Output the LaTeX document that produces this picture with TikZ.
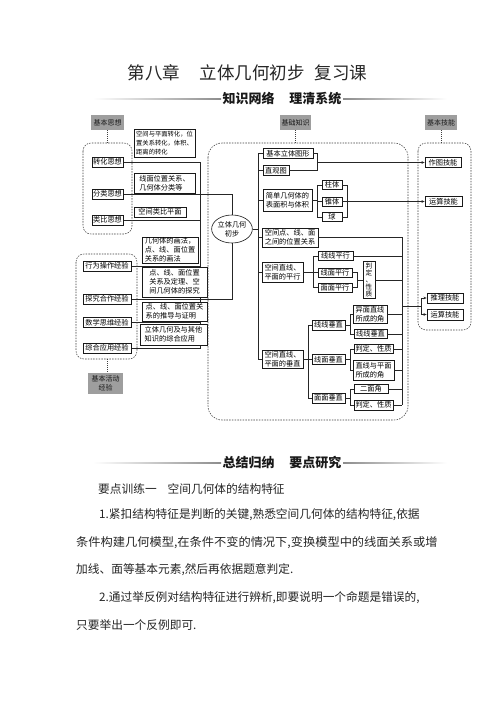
\documentclass[tikz,border=0pt]{standalone}
\usepackage{fontspec}
\setmainfont{Noto Sans CJK SC}
\usepackage{graphicx}
\usetikzlibrary{shapes.geometric,shadows,arrows.meta}
\pgfdeclarelayer{bg}
\pgfsetlayers{bg,main}
\newcommand\nf{\fontsize{7.2pt}{9.2pt}\selectfont}
\newcommand\nfs{\fontsize{6.3pt}{9pt}\selectfont}
\newcommand\gf{\fontsize{7pt}{9pt}\selectfont}
\newcommand\bodyf{\fontsize{11.7pt}{14pt}\selectfont}
\begin{document}
\begin{tikzpicture}[x=1pt,y=-1pt,
  bx/.style={draw=black!90,line width=0.6pt,fill=white,inner sep=0pt,font=\nf,align=left,
    drop shadow={shadow xshift=0.6pt,shadow yshift=-0.6pt,fill=black!50,opacity=1}},
  gbx/.style={fill=black!38,inner sep=0pt,font=\gf,align=center,text=black!90},
  ln/.style={draw=black!85,line width=0.6pt},
  fr/.style={draw=black!75,line width=0.55pt,dash pattern=on 1.5pt off 1.2pt,rounded corners=8pt},
  dl/.style={draw=black!75,line width=0.55pt,dash pattern=on 1pt off 1pt},
  arr/.style={ln,-{Stealth[length=3.2pt,width=2.6pt]}},
  body/.style={font=\bodyf,inner sep=0pt,anchor=west,text=black!85},
  hd/.style={font=\bfseries\fontsize{13pt}{15pt}\selectfont,inner sep=0pt,text=black!90}
]
\useasboundingbox (0,0) rectangle (496,702);
\begin{pgfonlayer}{bg}
\fill[white] (0,0) rectangle (496,702);
\end{pgfonlayer}

% title and headers
\node[font=\fontsize{17.5pt}{20pt}\selectfont,text=black!85,inner sep=0pt] (title) at (247.5,73) {第八章\hspace{20pt}立体几何初步\hspace{10pt}复习课};
\node[hd] (h1) at (282,99) {知识网络\hspace{15pt}理清系统};
\shade[left color=white,right color=black!45] (93,98.5) rectangle (221,99.7);
\shade[left color=black!45,right color=white] (343,98.5) rectangle (447,99.7);

% ellipse
\node[draw=black!90,line width=0.6pt,ellipse,minimum width=40pt,minimum height=28pt,inner sep=0pt,font=\nf,align=center] (el) at (232,229) {立体几何\\初步};

% ---------- left: basic ideas ----------
\node[gbx,minimum width=33pt,minimum height=15pt] (sx) at (107.5,122.5) {基本思想};
\draw[fr] (83,143) rectangle (132,234);
\coordinate (sxf) at (107.5,143);
\draw[dl] (sx.south) -- (sxf);
\node[bx,minimum width=31pt,minimum height=10pt,align=center] (zh) at (107.5,162) {转化思想};
\node[bx,minimum width=31pt,minimum height=10pt,align=center] (fl) at (107.5,194) {分类思想};
\node[bx,minimum width=31pt,minimum height=10pt,align=center] (lb) at (107.5,220) {类比思想};
\node[bx,minimum width=61pt,minimum height=28pt,font=\nfs] (d1) at (164.5,143.5) {空间与平面转化，位\\置关系转化，体积、\\距离的转化};
\node[bx,minimum width=61pt,minimum height=20pt] (d2) at (164.5,183) {线面位置关系、\\几何体分类等};
\node[bx,minimum width=52pt,minimum height=10pt] (d3) at (160,212) {空间类比平面};

% ---------- left: activity experience ----------
\draw[fr] (76,254) rectangle (137,359);
\node[bx,minimum width=48pt,minimum height=10pt,align=center] (xw) at (107,266) {行为操作经验};
\node[bx,minimum width=48pt,minimum height=10pt,align=center] (tj) at (107,299) {探究合作经验};
\node[bx,minimum width=48pt,minimum height=10pt,align=center] (sw) at (107,322.5) {数学思维经验};
\node[bx,minimum width=48pt,minimum height=10pt,align=center] (zy) at (107,348) {综合应用经验};
\coordinate (hdf) at (107,359);
\coordinate (jht) at (107,373);
\node[gbx,minimum width=35pt,minimum height=21pt] (jh) at (105.5,383.5) {基本活动\\经验};
\draw[dl] (hdf) -- (jht);
\node[bx,minimum width=56pt,minimum height=26pt] (e1) at (170,250) {几何体的画法，\\点、线、面位置\\关系的画法};
\node[bx,minimum width=65pt,minimum height=30pt] (e2) at (174.5,282) {点、线、面位置\\关系及定理、空\\间几何体的探究};
\node[bx,minimum width=65pt,minimum height=19pt] (e3) at (174.5,311.5) {点、线、面位置关\\系的推导与证明};
\node[bx,minimum width=67pt,minimum height=21pt] (e4) at (173.5,334.5) {立体几何及与其他\\知识的综合应用};

% left bus (behind the boxes)
\coordinate (bl) at (200.5,0);
\begin{pgfonlayer}{bg}
\draw[ln] (zh.east) -- (zh.east -| bl);
\draw[ln] (lb.east) -- (lb.east -| bl);
\draw[ln] (xw.east) -- (xw.east -| bl);
\draw[ln] (sw.east) -- (sw.east -| bl);
\draw[ln] (zy.east) -- (zy.east -| bl);
\draw[ln] (zh.east -| bl) -- (zy.east -| bl);
\draw[ln] (fl.east) -- (fl.east -| el.north) -- (el.north);
\draw[ln] (tj.east) -- (tj.east -| el.south) -- (el.south);
\end{pgfonlayer}

% ---------- middle: basic knowledge ----------
\node[gbx,minimum width=31pt,minimum height=15pt] (jc) at (295.5,122.5) {基础知识};
\draw[fr,rounded corners=14pt] (208,143) rectangle (408,420);
\coordinate (jcf) at (295.5,143);
\draw[dl] (jc.south) -- (jcf);

\node[bx,minimum width=50pt,minimum height=9.5pt] (k1) at (288,153.5) {基本立体图形};
\node[bx,minimum width=26pt,minimum height=9.5pt] (k2) at (276,170.5) {直观图};
\node[bx,minimum width=49pt,minimum height=22pt] (k3) at (287.5,200.5) {简单几何体的\\表面积与体积};
\node[bx,minimum width=20pt,minimum height=9pt,align=center] (z1) at (332,185) {柱体};
\node[bx,minimum width=20pt,minimum height=9pt,align=center] (z2) at (332,201.5) {锥体};
\node[bx,minimum width=20pt,minimum height=9pt,align=center] (q) at (332,217) {球};
\node[bx,minimum width=56pt,minimum height=19pt] (k4) at (290,237.5) {空间点、线、面\\之间的位置关系};
\node[bx,minimum width=41pt,minimum height=20pt] (k5) at (282.5,272) {空间直线、\\平面的平行};
\node[bx,minimum width=41pt,minimum height=18pt] (k6) at (282.5,359.5) {空间直线、\\平面的垂直};

\node[bx,minimum width=35pt,minimum height=9pt,align=center] (p1) at (335.5,256) {线线平行};
\node[bx,minimum width=34pt,minimum height=9pt,align=center] (p2) at (335,272.5) {线面平行};
\node[bx,minimum width=34pt,minimum height=9pt,align=center] (p3) at (335,287.5) {面面平行};
\node[bx,minimum width=12pt,minimum height=37pt,align=center,font=\fontsize{6.6pt}{7.2pt}\selectfont] (pd) at (369,280) {判\\定\\、\\性\\质};

\node[bx,minimum width=33pt,minimum height=10pt,align=center] (v1) at (328.5,325) {线线垂直};
\node[bx,minimum width=33pt,minimum height=10pt,align=center] (v2) at (328.5,359.5) {线面垂直};
\node[bx,minimum width=33pt,minimum height=10pt,align=center] (v3) at (328.5,398) {面面垂直};

\node[bx,minimum width=34pt,minimum height=18pt] (r1) at (370,314) {异面直线\\所成的角};
\node[bx,minimum width=33pt,minimum height=9pt,align=center] (r2) at (370.5,334) {线线垂直};
\node[bx,minimum width=39pt,minimum height=9pt,align=center] (r3) at (373.5,349) {判定、性质};
\node[bx,minimum width=41pt,minimum height=20pt] (r4) at (373.5,370) {直线与平面\\所成的角};
\node[bx,minimum width=34pt,minimum height=9pt,align=center] (r5) at (371,389) {二面角};
\node[bx,minimum width=39pt,minimum height=10pt,align=center] (r6) at (373.5,405) {判定、性质};

% spine
\coordinate (sp) at (258,0);
\draw[ln] (k1.west -| sp) -- (k6.west -| sp);
\draw[ln] (el.east) -- (el.east -| sp);
\foreach \n in {k1,k2,k3,k4,k5,k6} \draw[ln] (\n.west -| sp) -- (\n.west);

% ---------- right: basic skills ----------
\node[gbx,minimum width=32pt,minimum height=15pt] (jn) at (441,122.5) {基本技能};
\draw[fr] (418,143) rectangle (471,330);
\coordinate (jnf) at (441,143);
\draw[dl] (jn.south) -- (jnf);
\node[bx,minimum width=36pt,minimum height=9.5pt,align=center] (zt) at (443,162.5) {作图技能};
\node[bx,minimum width=37pt,minimum height=9.5pt,align=center] (ys2) at (443.5,201.5) {运算技能};
\node[bx,minimum width=36pt,minimum height=10pt,align=center] (tl) at (445,298) {推理技能};
\node[bx,minimum width=36pt,minimum height=11pt,align=center] (ys3) at (445,314.5) {运算技能};

% brackets top
\coordinate (b1) at (317,0);
\draw[ln] (k1.east) -- (k1.east -| b1) -- (k2.east -| b1) -- (k2.east);
\draw[arr] (zt.west -| b1) -- (zt.west);
\draw[ln] (k3.east) -- (k3.east -| b1);
\draw[ln] (z1.west -| b1) -- (q.west -| b1);
\foreach \n in {z1,z2,q} \draw[ln] (\n.west -| b1) -- (\n.west);
\coordinate (b3) at (347,0);
\draw[ln] (z1.east) -- (z1.east -| b3) -- (q.east -| b3) -- (q.east);
\draw[ln] (z2.east) -- (z2.east -| b3);
\draw[arr] (z2.east -| b3) -- (ys2.west);

% parallel
\coordinate (b4) at (313,0);
\draw[ln] (k5.east) -- (k5.east -| b4);
\draw[ln] (p1.west -| b4) -- (p3.west -| b4);
\foreach \n in {p1,p2,p3} \draw[ln] (\n.west -| b4) -- (\n.west);
\coordinate (b5) at (357,0);
\draw[ln] (p2.east) -- (p2.east -| b5) -- (p3.east -| b5) -- (p3.east);
\draw[ln] (pd.west -| b5) -- (pd.west);

% right bus
\coordinate (br) at (402,0);
\draw[ln] (k4.east) -- (k4.east -| br) -- (r6.east -| br);
\foreach \n in {p1,pd,r1,r2,r3,r4,r5,r6} \draw[ln] (\n.east) -- (\n.east -| br);

% perpendicular
\coordinate (b6) at (308,0);
\draw[ln] (k6.east) -- (k6.east -| b6);
\draw[ln] (v1.west -| b6) -- (v3.west -| b6);
\foreach \n in {v1,v2,v3} \draw[ln] (\n.west -| b6) -- (\n.west);
\coordinate (b7) at (350,0);
\draw[ln] (v1.east) -- (v1.east -| b7);
\draw[ln] (v2.east) -- (v2.east -| b7);
\draw[ln] (v3.east) -- (v3.east -| b7);
\draw[ln] (r1.west -| b7) -- (r2.west -| b7);
\draw[ln] (r3.west -| b7) -- (r4.west -| b7);
\draw[ln] (r5.west -| b7) -- (r6.west -| b7);
\foreach \n in {r1,r2,r3,r4,r5,r6} \draw[ln] (\n.west -| b7) -- (\n.west);

% arrows to reasoning / calculation skills
\coordinate (bq) at (421,0);
\coordinate (j1) at (402,306);
\draw[ln] (j1) -- (j1 -| bq);
\draw[ln] (tl.west -| bq) -- (ys3.west -| bq);
\draw[arr] (tl.west -| bq) -- (tl.west);
\draw[arr] (ys3.west -| bq) -- (ys3.west);

% ---------- lower text ----------
\node[hd] (h2) at (282,463) {总结归纳\hspace{15pt}要点研究};
\shade[left color=white,right color=black!45] (93,462.5) rectangle (221,463.7);
\shade[left color=black!45,right color=white] (343,462.5) rectangle (447,463.7);
\node[body] (t0) at (98,489) {要点训练一\hspace{11pt}空间几何体的结构特征};
\node[body] (t1) at (99,515) {1.紧扣结构特征是判断的关键,熟悉空间几何体的结构特征,依据};
\node[body] (t2) at (76,543) {\scalebox{1.045}[1]{条件构建几何模型,在条件不变的情况下,变换模型中的线面关系或增}};
\node[body] (t3) at (76,570) {加线、面等基本元素,然后再依据题意判定.};
\node[body] (t4) at (99,598) {2.通过举反例对结构特征进行辨析,即要说明一个命题是错误的,};
\node[body] (t5) at (76,625) {只要举出一个反例即可.};
\end{tikzpicture}
\end{document}
